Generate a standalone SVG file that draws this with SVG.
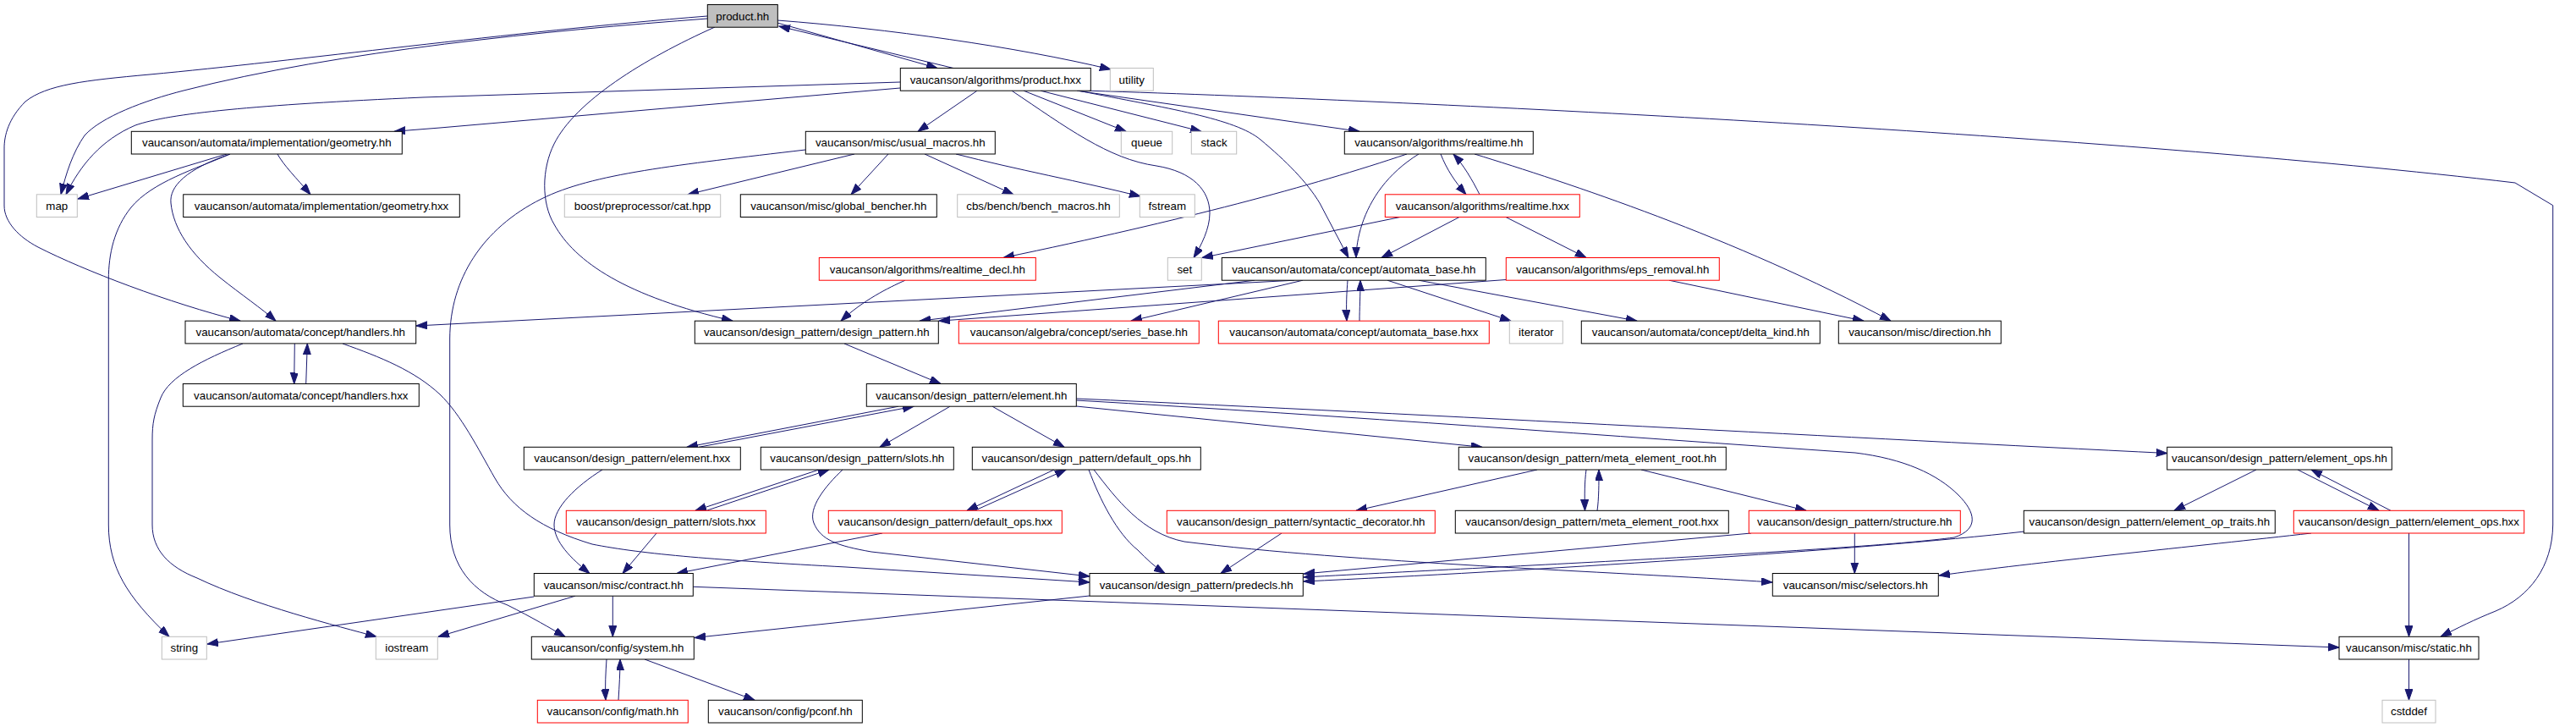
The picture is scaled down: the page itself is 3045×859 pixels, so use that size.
<svg xmlns="http://www.w3.org/2000/svg" width="3045" height="859" viewBox="0 0 3045 859">
<style>
.node rect{fill:#ffffff;stroke:#000000;stroke-width:1}
.node.g rect{stroke:#bfbfbf}
.node.r rect{stroke:#ff0000}
.node.root rect{fill:#bfbfbf}
.node text{font-family:"Liberation Sans",Arial,sans-serif;font-size:13.33px;fill:#000000;text-anchor:middle}
#edges path{fill:none;stroke:#191970;stroke-width:1;marker-end:url(#ah)}
</style>
<defs>
<marker id="ah" markerUnits="userSpaceOnUse" markerWidth="14" markerHeight="10" refX="13" refY="4.5" orient="auto">
<path d="M0,0 L13,4.5 L0,9 Z" fill="#191970" stroke="#191970" stroke-width="1"/>
</marker>
</defs>
<rect x="0" y="0" width="3045" height="859" fill="#ffffff"/>
<g id="edges">
<path d="M 919,27 L 1108,80.5"/>
<path d="M 1127,80.5 L 921,31"/>
<path d="M 919,24 C 1050,34 1200,55 1313,82"/>
<path d="M 836,22 C 650,36 400,60 217,107 C 170,119 120,138 100,160 C 86,180 78,205 72,229.8"/>
<path d="M 836,19 C 600,38 350,72 177,88 C 100,95 55,100 30,120 C 10,140 5,160 5,175 L 5,243 C 5,262 22,280 45,292 C 100,320 200,358 284,379.2"/>
<path d="M 845,32 C 760,70 680,120 655,170 C 640,200 640,240 655,265 C 680,310 740,350 866,379.2"/>
<path d="M 1064,97 L 500,115 C 300,124 200,134 160,148 C 120,165 95,195 78,229.8"/>
<path d="M 1064,104 L 520,151 L 466,155.3"/>
<path d="M 1155,107.2 L 1085,155.3"/>
<path d="M 1196,107.2 C 1260,150 1310,188 1367,196 C 1410,203 1430,225 1430,252 C 1430,270 1420,290 1411,304.5"/>
<path d="M 1210,107.2 L 1331,155.3"/>
<path d="M 1230,107.2 L 1420,155.3"/>
<path d="M 1273,107.2 L 1607,155.3"/>
<path d="M 1275,107.2 C 1380,128 1460,140 1490,165 C 1520,190 1545,215 1560,240 L 1594,304.5"/>
<path d="M 1287,107.2 C 1700,120 2500,160 2973,216 L 3017.7,242.7 L 3017.7,620 C 3017,670 2990,705 2950,722 C 2925,732 2905,742 2885,752.3"/>
<path d="M 268,182 L 92,235"/>
<path d="M 328,182 C 335,195 350,210 367,229.8"/>
<path d="M 272,182 C 230,200 180,215 155,245 C 135,270 128.3,300 128.3,330 L 128.3,620 C 128.3,670 150,705 200,752.3"/>
<path d="M 272,182 C 220,200 200,220 202,240 C 205,270 225,300 260,328 C 285,348 310,365 326,379.2"/>
<path d="M 348.3,406 L 347.7,453.5"/>
<path d="M 361.7,453.5 L 363.3,406"/>
<path d="M 287,406 C 240,425 200,445 190,470 C 182,490 180,500 180,520 L 180,620 C 180,650 200,670 233,683 C 300,715 400,740 445,752.3"/>
<path d="M 405,406 C 450,422 490,438 520,466 C 545,490 565,530 585,565 C 605,600 640,625 700,643 C 760,655 850,662 1000,670 L 1288,688"/>
<path d="M 1530,331.2 L 492,385"/>
<path d="M 1483,331.2 L 1087,379.2"/>
<path d="M 1540,331.2 L 1337,379.2"/>
<path d="M 1780,330.5 L 1110,379.2"/>
<path d="M 1070,331.2 C 1050,340 1020,355 994,379.2"/>
<path d="M 1593,331.2 C 1592,345 1591,360 1592,379.2"/>
<path d="M 1607,379.2 C 1607,365 1608,350 1608,331.2"/>
<path d="M 1640,331.2 L 1786,379.2"/>
<path d="M 1677,331.2 L 1935,379.2"/>
<path d="M 1663,182 C 1550,220 1400,260 1186,304.5"/>
<path d="M 1677,182 C 1640,205 1620,235 1610,265 C 1605,280 1603,295 1603,304.5"/>
<path d="M 1703,182 C 1710,200 1720,215 1733,229.8"/>
<path d="M 1749,229.8 C 1740,212 1730,195 1718,182"/>
<path d="M 1743,182 C 1850,215 2050,280 2235,379.2"/>
<path d="M 1725,256.5 L 1633,304.5"/>
<path d="M 1780,256.5 L 1875,304.5"/>
<path d="M 1655,256.5 L 1421,304.5"/>
<path d="M 1973,331.2 L 2203,379.2"/>
<path d="M 1010,182 L 813,229.8"/>
<path d="M 1050,182 L 1006,229.8"/>
<path d="M 1093,182 L 1198,229.8"/>
<path d="M 1130,182 C 1200,200 1280,215 1348,232"/>
<path d="M 952,177 C 800,195 700,205 640,235 C 570,270 532,330 531.7,400 L 531.7,620 C 531.7,670 560,700 600,715 C 630,730 650,742 668,752.3"/>
<path d="M 998,406 L 1112,453.5"/>
<path d="M 1062,480.2 L 812,528.3"/>
<path d="M 826,528.3 L 1080,480.2"/>
<path d="M 1123,480.2 L 1040,528.3"/>
<path d="M 1173,480.2 L 1258,528.3"/>
<path d="M 1272.3,471 C 1700,490 2200,518 2561.7,535.5"/>
<path d="M 1272.3,473 C 1600,492 1900,515 2193,535 C 2250,542 2290,560 2315,585 C 2335,605 2340,625 2310,635 C 2200,650 1800,668 1541,682"/>
<path d="M 1272.3,480 L 1752,528.3"/>
<path d="M 968,555 L 822,603.3"/>
<path d="M 835,603.3 L 980,555"/>
<path d="M 776,630 L 736,677.5"/>
<path d="M 712,555 C 680,575 655,600 655,620 C 655,640 675,660 697,677.5"/>
<path d="M 996,555 C 975,575 955,600 962,618 C 970,638 990,645 1030,652 L 1288,681"/>
<path d="M 1246,555 L 1143,603.3"/>
<path d="M 1152,603.3 L 1260,555"/>
<path d="M 1043,630 L 800,677.5"/>
<path d="M 1287,555 C 1300,590 1320,630 1345,650 C 1355,660 1365,670 1377,677.5"/>
<path d="M 1293,555 C 1320,590 1350,630 1400,640 C 1600,665 1900,675 2095,688"/>
<path d="M 1515,630 L 1443,677.5"/>
<path d="M 2070,630 L 1541,678"/>
<path d="M 2393,628 C 2200,650 1800,675 1541,687"/>
<path d="M 2192.3,630 L 2192.3,677.5"/>
<path d="M 2732,630 C 2600,645 2400,665 2292,680"/>
<path d="M 1817,555 L 1603,603.3"/>
<path d="M 1875,555 C 1873,570 1873,585 1873.5,603.3"/>
<path d="M 1888,603.3 C 1890,590 1890,570 1890,555"/>
<path d="M 1940,555 L 2135,603.3"/>
<path d="M 2667,555 L 2570,603.3"/>
<path d="M 2716,555 L 2812,603.3"/>
<path d="M 2826,603.3 L 2732,555"/>
<path d="M 2847.5,630 L 2847.5,752.3"/>
<path d="M 2847.5,779 L 2847.5,827.3"/>
<path d="M 724.3,704.2 L 724.3,752.3"/>
<path d="M 631.3,705 L 245,761"/>
<path d="M 680,704.2 L 518,752.3"/>
<path d="M 819.3,693.3 L 2765,765"/>
<path d="M 1288,704 L 821,753.5"/>
<path d="M 717,779 C 716,795 715,810 716,827.3"/>
<path d="M 731,827.3 C 732,810 733,795 733,779"/>
<path d="M 762,779 L 892,827.3"/>
</g>
<g id="product_hh" class="node root"><rect x="836.3" y="5.5" width="83" height="26.7"/><text x="877.8" y="23.5">product.hh</text></g>
<g id="product_hxx" class="node"><rect x="1064.3" y="80.5" width="225" height="26.7"/><text x="1176.8" y="98.5">vaucanson/algorithms/product.hxx</text></g>
<g id="utility" class="node g"><rect x="1312.3" y="80.5" width="51" height="26.7"/><text x="1337.8" y="98.5">utility</text></g>
<g id="geometry_hh" class="node"><rect x="155.3" y="155.3" width="320" height="26.7"/><text x="315.3" y="173.3">vaucanson/automata/implementation/geometry.hh</text></g>
<g id="usual_macros_hh" class="node"><rect x="952.3" y="155.3" width="224" height="26.7"/><text x="1064.3" y="173.3">vaucanson/misc/usual_macros.hh</text></g>
<g id="queue" class="node g"><rect x="1325.3" y="155.3" width="60.4" height="26.7"/><text x="1355.5" y="173.3">queue</text></g>
<g id="stack" class="node g"><rect x="1408.3" y="155.3" width="53.4" height="26.7"/><text x="1435" y="173.3">stack</text></g>
<g id="realtime_hh" class="node"><rect x="1589.3" y="155.3" width="223" height="26.7"/><text x="1700.8" y="173.3">vaucanson/algorithms/realtime.hh</text></g>
<g id="map" class="node g"><rect x="43.3" y="229.8" width="48" height="26.7"/><text x="67.3" y="247.8">map</text></g>
<g id="geometry_hxx" class="node"><rect x="216.7" y="229.8" width="326.6" height="26.7"/><text x="380" y="247.8">vaucanson/automata/implementation/geometry.hxx</text></g>
<g id="cat_hpp" class="node g"><rect x="667.3" y="229.8" width="184.4" height="26.7"/><text x="759.5" y="247.8">boost/preprocessor/cat.hpp</text></g>
<g id="global_bencher_hh" class="node"><rect x="875.3" y="229.8" width="232" height="26.7"/><text x="991.3" y="247.8">vaucanson/misc/global_bencher.hh</text></g>
<g id="bench_macros_hh" class="node g"><rect x="1131.7" y="229.8" width="191.6" height="26.7"/><text x="1227.5" y="247.8">cbs/bench/bench_macros.hh</text></g>
<g id="fstream" class="node g"><rect x="1347.3" y="229.8" width="65" height="26.7"/><text x="1379.8" y="247.8">fstream</text></g>
<g id="realtime_hxx" class="node r"><rect x="1637.3" y="229.8" width="230" height="26.7"/><text x="1752.3" y="247.8">vaucanson/algorithms/realtime.hxx</text></g>
<g id="realtime_decl_hh" class="node r"><rect x="968.3" y="304.5" width="256" height="26.7"/><text x="1096.3" y="322.5">vaucanson/algorithms/realtime_decl.hh</text></g>
<g id="set" class="node g"><rect x="1380.3" y="304.5" width="40" height="26.7"/><text x="1400.3" y="322.5">set</text></g>
<g id="automata_base_hh" class="node"><rect x="1444.3" y="304.5" width="312" height="26.7"/><text x="1600.3" y="322.5">vaucanson/automata/concept/automata_base.hh</text></g>
<g id="eps_removal_hh" class="node r"><rect x="1780.3" y="304.5" width="252" height="26.7"/><text x="1906.3" y="322.5">vaucanson/algorithms/eps_removal.hh</text></g>
<g id="handlers_hh" class="node"><rect x="219" y="379.2" width="272.7" height="26.7"/><text x="355.3" y="397.2">vaucanson/automata/concept/handlers.hh</text></g>
<g id="design_pattern_hh" class="node"><rect x="821.3" y="379.2" width="288" height="26.7"/><text x="965.3" y="397.2">vaucanson/design_pattern/design_pattern.hh</text></g>
<g id="series_base_hh" class="node r"><rect x="1133.3" y="379.2" width="284" height="26.7"/><text x="1275.3" y="397.2">vaucanson/algebra/concept/series_base.hh</text></g>
<g id="automata_base_hxx" class="node r"><rect x="1440.3" y="379.2" width="320" height="26.7"/><text x="1600.3" y="397.2">vaucanson/automata/concept/automata_base.hxx</text></g>
<g id="iterator" class="node g"><rect x="1784.3" y="379.2" width="63" height="26.7"/><text x="1815.8" y="397.2">iterator</text></g>
<g id="delta_kind_hh" class="node"><rect x="1869.3" y="379.2" width="282" height="26.7"/><text x="2010.3" y="397.2">vaucanson/automata/concept/delta_kind.hh</text></g>
<g id="direction_hh" class="node"><rect x="2173.3" y="379.2" width="192" height="26.7"/><text x="2269.3" y="397.2">vaucanson/misc/direction.hh</text></g>
<g id="handlers_hxx" class="node"><rect x="216.3" y="453.5" width="279" height="26.7"/><text x="355.8" y="471.5">vaucanson/automata/concept/handlers.hxx</text></g>
<g id="element_hh" class="node"><rect x="1024.3" y="453.5" width="248" height="26.7"/><text x="1148.3" y="471.5">vaucanson/design_pattern/element.hh</text></g>
<g id="element_hxx" class="node"><rect x="619.3" y="528.3" width="256" height="26.7"/><text x="747.3" y="546.3">vaucanson/design_pattern/element.hxx</text></g>
<g id="slots_hh" class="node"><rect x="899.3" y="528.3" width="228" height="26.7"/><text x="1013.3" y="546.3">vaucanson/design_pattern/slots.hh</text></g>
<g id="default_ops_hh" class="node"><rect x="1149.3" y="528.3" width="270" height="26.7"/><text x="1284.3" y="546.3">vaucanson/design_pattern/default_ops.hh</text></g>
<g id="meta_element_root_hh" class="node"><rect x="1724.3" y="528.3" width="316" height="26.7"/><text x="1882.3" y="546.3">vaucanson/design_pattern/meta_element_root.hh</text></g>
<g id="element_ops_hh" class="node"><rect x="2561.7" y="528.3" width="265.6" height="26.7"/><text x="2694.5" y="546.3">vaucanson/design_pattern/element_ops.hh</text></g>
<g id="slots_hxx" class="node r"><rect x="669.3" y="603.3" width="236" height="26.7"/><text x="787.3" y="621.3">vaucanson/design_pattern/slots.hxx</text></g>
<g id="default_ops_hxx" class="node r"><rect x="979.3" y="603.3" width="276" height="26.7"/><text x="1117.3" y="621.3">vaucanson/design_pattern/default_ops.hxx</text></g>
<g id="syntactic_decorator_hh" class="node r"><rect x="1379.3" y="603.3" width="317" height="26.7"/><text x="1537.8" y="621.3">vaucanson/design_pattern/syntactic_decorator.hh</text></g>
<g id="meta_element_root_hxx" class="node"><rect x="1720.3" y="603.3" width="323" height="26.7"/><text x="1881.8" y="621.3">vaucanson/design_pattern/meta_element_root.hxx</text></g>
<g id="structure_hh" class="node r"><rect x="2067.3" y="603.3" width="250" height="26.7"/><text x="2192.3" y="621.3">vaucanson/design_pattern/structure.hh</text></g>
<g id="element_op_traits_hh" class="node"><rect x="2392.3" y="603.3" width="297" height="26.7"/><text x="2540.8" y="621.3">vaucanson/design_pattern/element_op_traits.hh</text></g>
<g id="element_ops_hxx" class="node r"><rect x="2711.3" y="603.3" width="272.4" height="26.7"/><text x="2847.5" y="621.3">vaucanson/design_pattern/element_ops.hxx</text></g>
<g id="contract_hh" class="node"><rect x="631.3" y="677.5" width="188" height="26.7"/><text x="725.3" y="695.5">vaucanson/misc/contract.hh</text></g>
<g id="predecls_hh" class="node"><rect x="1288" y="677.5" width="252.3" height="26.7"/><text x="1414.2" y="695.5">vaucanson/design_pattern/predecls.hh</text></g>
<g id="selectors_hh" class="node"><rect x="2095.3" y="677.5" width="196" height="26.7"/><text x="2193.3" y="695.5">vaucanson/misc/selectors.hh</text></g>
<g id="string" class="node g"><rect x="191.3" y="752.3" width="53" height="26.7"/><text x="217.8" y="770.3">string</text></g>
<g id="iostream" class="node g"><rect x="444.3" y="752.3" width="73" height="26.7"/><text x="480.8" y="770.3">iostream</text></g>
<g id="system_hh" class="node"><rect x="628.3" y="752.3" width="192" height="26.7"/><text x="724.3" y="770.3">vaucanson/config/system.hh</text></g>
<g id="static_hh" class="node"><rect x="2765" y="752.3" width="165" height="26.7"/><text x="2847.5" y="770.3">vaucanson/misc/static.hh</text></g>
<g id="math_hh" class="node r"><rect x="635.3" y="827.3" width="178" height="26.7"/><text x="724.3" y="845.3">vaucanson/config/math.hh</text></g>
<g id="pconf_hh" class="node"><rect x="837.3" y="827.3" width="182" height="26.7"/><text x="928.3" y="845.3">vaucanson/config/pconf.hh</text></g>
<g id="cstddef" class="node g"><rect x="2816" y="827.3" width="63" height="26.7"/><text x="2847.5" y="845.3">cstddef</text></g>
</svg>
